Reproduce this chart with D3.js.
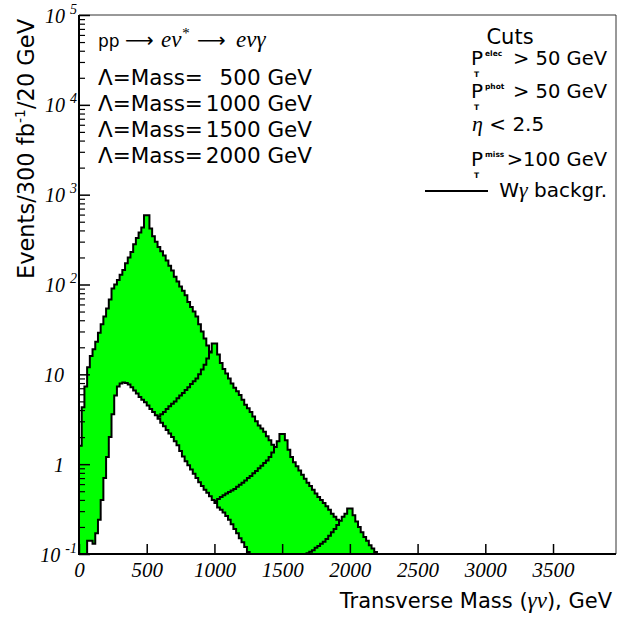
<!DOCTYPE html>
<html>
<head>
<meta charset="utf-8">
<script src="https://cdn.jsdelivr.net/npm/d3@7"></script>
<style>
  body { margin: 0; background: #fff; }
</style>
</head>
<body>
<div id="chart"></div>
<script>
// histograms in 20 GeV bins, each series listed from its own first bin (GeV)
const binWidth = 20;
const masses = [500, 1000, 1500, 2000];

const sig500Start = 0;
const sig500 = [1.6, 4.3, 7.3, 12, 16, 19, 23, 29, 36, 44, 54, 68, 90, 100, 112, 128, 145, 172, 200, 230,
  280, 330, 380, 430, 590, 590, 420, 345, 300, 262, 235, 210, 185, 162, 143, 122, 108, 95, 85, 76,
  64, 56, 50, 44, 36, 30, 25, 21, 18, 15];

const sig1000Start = 520;
const sig1000 = [2.6, 2.8, 3.1, 3.4, 3.6, 3.8, 4.1, 4.4, 4.7, 5.0, 5.4, 5.8, 6.2, 6.7, 7.2, 7.8, 8.4, 9.0,
  10.0, 11.3, 12.8, 15, 17.5, 22, 22, 16.6, 13.4, 11.5, 10.2, 9.0, 7.9, 7.1, 6.5, 5.9, 5.2, 4.6, 4.2,
  3.8, 3.4, 3.0, 2.7, 2.5, 2.3, 2.05, 1.85, 1.65, 1.45, 1.3, 1.15];

const sig1500Start = 980;
const sig1500 = [0.36, 0.39, 0.41, 0.43, 0.45, 0.47, 0.49, 0.51, 0.53, 0.56, 0.59, 0.62, 0.66, 0.70, 0.74,
  0.79, 0.84, 0.90, 0.96, 1.03, 1.1, 1.2, 1.35, 1.55, 1.8, 2.16, 2.16, 1.85, 1.45, 1.2, 1.05, 0.95, 0.85,
  0.76, 0.69, 0.62, 0.57, 0.52, 0.47, 0.43, 0.40, 0.37, 0.34, 0.31, 0.28, 0.26, 0.24, 0.23, 0.21, 0.19, 0.17];

const sig2000Start = 1680;
const sig2000 = [0.102, 0.106, 0.11, 0.117, 0.123, 0.13, 0.137, 0.147, 0.16, 0.175, 0.19, 0.21, 0.235,
  0.26, 0.28, 0.32, 0.32, 0.27, 0.23, 0.2, 0.175, 0.155, 0.14, 0.125, 0.115, 0.105];

const bkgStart = 60;
const bkg = [0.14, 0.14, 0.13, 0.17, 0.24, 0.4, 0.7, 1.2, 2.0, 3.6, 5.8, 7.3, 7.9, 8.1, 8.0, 7.7, 7.2, 6.6,
  6.1, 5.6, 5.2, 4.9, 4.5, 4.1, 3.8, 3.5, 3.2, 2.9, 2.65, 2.4, 2.2, 2.0, 1.8, 1.62, 1.4, 1.22, 1.08, 0.97,
  0.87, 0.78, 0.7, 0.63, 0.57, 0.52, 0.48, 0.44, 0.40, 0.37, 0.33, 0.31, 0.29, 0.265, 0.24, 0.215, 0.19,
  0.17, 0.15, 0.135, 0.12, 0.105];

const xTicks = [0, 500, 1000, 1500, 2000, 2500, 3000, 3500];
const yTicks = [0.1, 1, 10, 100, 1000, 10000, 100000];
const yTickBase = ["10", "1", "10", "10", "10", "10", "10"];
const yTickExp = ["-1", "", "", "2", "3", "4", "5"];

const cutLabels = ["elec", "phot", "miss"];
const cutValues = ["> 50 GeV", "> 50 GeV", ">100 GeV"];

const width = 639, height = 618;
const sans = "DejaVu Sans";
const serif = "Liberation Serif";

const svg = d3.select("#chart").append("svg")
    .attr("width", width)
    .attr("height", height)
    .style("display", "block");

const x = d3.scaleLinear().domain([0, 3965]).range([79, 616]);
const y = d3.scaleLog().domain([0.1, 1e5]).range([554, 15]);

svg.append("clipPath").attr("id", "plotclip")
  .append("rect")
    .attr("x", x(0)).attr("y", y(1e5))
    .attr("width", x(3965) - x(0)).attr("height", y(0.1) - y(1e5));

// step outline of one histogram, closed down to the axis floor
function histPath(start, vals) {
  const p = d3.path();
  p.moveTo(x(start), y(0.1));
  vals.forEach(function(v, i) {
    p.lineTo(x(start + i * binWidth), y(v));
    p.lineTo(x(start + (i + 1) * binWidth), y(v));
  });
  p.lineTo(x(start + vals.length * binWidth), y(0.1));
  p.closePath();
  return p.toString();
}

let hists = [
  {start: sig500Start, vals: sig500, fill: "#00ff00"},
  {start: sig1000Start, vals: sig1000, fill: "#00ff00"},
  {start: sig1500Start, vals: sig1500, fill: "#00ff00"},
  {start: sig2000Start, vals: sig2000, fill: "#00ff00"},
  {start: bkgStart, vals: bkg, fill: "#ffffff"}
];

let plot = svg.append("g").attr("clip-path", "url(#plotclip)");

plot.selectAll("path")
  .data(hists)
  .enter()
  .append("path")
    .attr("d", function(d) { return histPath(d.start, d.vals); })
    .attr("fill", function(d) { return d.fill; })
    .attr("stroke", "#000")
    .attr("stroke-width", 2)
    .attr("stroke-linejoin", "miter");

// frame: top and right thin
svg.append("path")
    .attr("d", `M${x(0)},${y(1e5)}H${x(3965)}V${y(0.1)}`)
    .attr("fill", "none")
    .attr("stroke", "#333")
    .attr("stroke-width", 1);

// x axis, ticks pointing up
let xAxis = svg.append("g")
    .attr("transform", `translate(0, ${y(0.1)})`)
    .call(d3.axisBottom(x).tickValues(xTicks).tickSizeInner(-10).tickSizeOuter(0).tickPadding(8)
      .tickFormat(d3.format("d")))
    .attr("font-family", serif)
    .attr("font-size", 21)
    .attr("font-style", "italic");
xAxis.select(".domain").remove();
xAxis.selectAll("line").attr("stroke", "#000").attr("stroke-width", 1.5);
xAxis.selectAll("text")
    .style("font-family", serif)
    .style("font-style", "italic")
    .style("font-size", "21px")
    .attr("fill", "#000");

// y axis ticks pointing right
let minors = [];
yTicks.slice(0, -1).forEach(function(t) {
  for (let k = 2; k <= 9; k++) minors.push(t * k);
});

let yMajor = svg.append("g")
    .attr("transform", `translate(${x(0)}, 0)`)
    .call(d3.axisRight(y).tickValues(yTicks).tickSize(11).tickFormat(""));
yMajor.select(".domain").remove();
yMajor.selectAll("line").attr("stroke", "#000").attr("stroke-width", 1.5);

let yMinor = svg.append("g")
    .attr("transform", `translate(${x(0)}, 0)`)
    .call(d3.axisRight(y).tickValues(minors).tickSize(6).tickFormat(""));
yMinor.select(".domain").remove();
yMinor.selectAll("line").attr("stroke", "#000").attr("stroke-width", 1.2);

// main axis lines
svg.append("line")
    .attr("x1", x(0)).attr("x2", x(0)).attr("y1", y(1e5)).attr("y2", y(0.1) + 1)
    .attr("stroke", "#000").attr("stroke-width", 2);
svg.append("line")
    .attr("x1", x(0) - 1).attr("x2", x(3965)).attr("y1", y(0.1)).attr("y2", y(0.1))
    .attr("stroke", "#000").attr("stroke-width", 2);

// y tick labels
let yLab = svg.append("g")
    .style("font-family", serif)
    .style("font-style", "italic")
    .attr("fill", "#000");

yTicks.forEach(function(t, i) {
  let txt = yLab.append("text")
      .attr("x", yTickExp[i] ? 77 : 64)
      .attr("y", y(t) + 7.5)
      .attr("text-anchor", "end")
      .style("font-size", "20px");
  txt.append("tspan").text(yTickBase[i]);
  if (yTickExp[i]) {
    txt.append("tspan")
        .attr("dx", 5)
        .attr("dy", -9)
        .style("font-size", "14px")
        .text(yTickExp[i]);
  }
});

// axis titles
let yTitle = svg.append("text")
    .attr("transform", "translate(34, 149) rotate(-90)")
    .attr("text-anchor", "middle")
    .style("font-family", sans)
    .style("font-size", "22.5px")
    .attr("fill", "#000");
yTitle.append("tspan").text("Events/300 fb");
yTitle.append("tspan").attr("dy", -9).style("font-size", "14px").text("-1");
yTitle.append("tspan").attr("dy", 9).text("/20 GeV");

let xTitle = svg.append("text")
    .attr("x", 612)
    .attr("y", 608)
    .attr("text-anchor", "end")
    .style("font-family", sans)
    .style("font-size", "21px")
    .attr("fill", "#000");
xTitle.append("tspan").text("Transverse Mass (");
xTitle.append("tspan").style("font-family", serif).style("font-style", "italic").style("font-size", "23px").text("γν");
xTitle.append("tspan").text("), GeV");

// process line
let proc = svg.append("g").attr("fill", "#000");
proc.append("text").attr("x", 98).attr("y", 47)
    .style("font-family", sans).style("font-size", "17px").text("pp");
proc.append("text").attr("x", 125).attr("y", 47)
    .style("font-family", sans).style("font-size", "20px").text("⟶");
let ev = proc.append("text").attr("x", 161).attr("y", 47)
    .style("font-family", serif).style("font-style", "italic").style("font-size", "23px");
ev.append("tspan").text("eν");
ev.append("tspan").attr("dy", -9).style("font-size", "15px").text("*");
proc.append("text").attr("x", 197).attr("y", 47)
    .style("font-family", sans).style("font-size", "20px").text("⟶");
proc.append("text").attr("x", 236).attr("y", 47)
    .style("font-family", serif).style("font-style", "italic").style("font-size", "23px").text("eνγ");

// mass lines
let massG = svg.append("g")
    .style("font-family", sans)
    .style("font-size", "21.5px")
    .attr("fill", "#000");
masses.forEach(function(m, i) {
  let by = 85 + i * 26;
  massG.append("text").attr("x", 98).attr("y", by).text("Λ=Mass=");
  massG.append("text").attr("x", 312).attr("y", by).attr("text-anchor", "end").text(m + " GeV");
});

// cuts block
let cuts = svg.append("g")
    .style("font-family", sans)
    .attr("fill", "#000");
cuts.append("text").attr("x", 510).attr("y", 44).attr("text-anchor", "middle")
    .style("font-size", "21px").text("Cuts");

let cutRows = [65, 98, 166];
cutLabels.forEach(function(lab, i) {
  let by = cutRows[i];
  cuts.append("text").attr("x", 471).attr("y", by).style("font-size", "20px").text("P");
  cuts.append("text").attr("x", 474).attr("y", by + 12).style("font-size", "7.5px").style("font-weight", "bold").text("T");
  cuts.append("text").attr("x", 485).attr("y", by - 9).style("font-size", "7.5px").style("font-weight", "bold").text(lab);
  cuts.append("text").attr("x", 607).attr("y", by).attr("text-anchor", "end").style("font-size", "19.5px")
      .text(cutValues[i]);
});

let eta = cuts.append("text").attr("x", 472).attr("y", 131).style("font-size", "20px");
eta.append("tspan").style("font-family", serif).style("font-style", "italic").style("font-size", "22px").text("η");
eta.append("tspan").text(" < 2.5");

cuts.append("line")
    .attr("x1", 425).attr("x2", 488).attr("y1", 191).attr("y2", 191)
    .attr("stroke", "#000").attr("stroke-width", 2);
let wg = cuts.append("text").attr("x", 607).attr("y", 197).attr("text-anchor", "end").style("font-size", "20px");
wg.append("tspan").text("W");
wg.append("tspan").style("font-family", serif).style("font-style", "italic").style("font-size", "22px").text("γ");
wg.append("tspan").text(" backgr.");
</script>
</body>
</html>
